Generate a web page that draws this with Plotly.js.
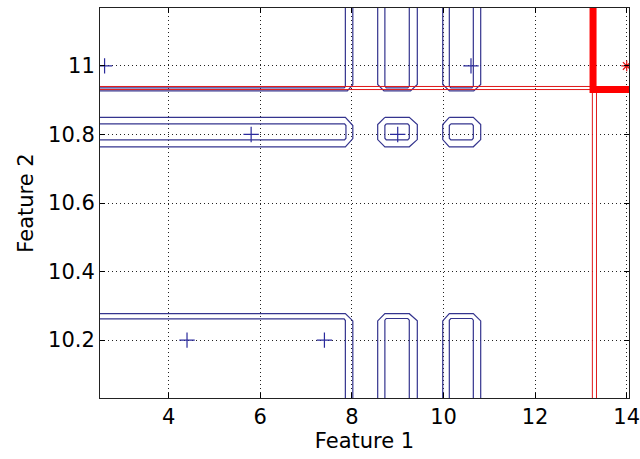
<!DOCTYPE html>
<html>
<head>
<meta charset="utf-8">
<script src="https://cdn.plot.ly/plotly-3.0.1.min.js"></script>
<style>
  html, body { margin: 0; padding: 0; background: #fff; }
  #chart { width: 640px; height: 459px; }
</style>
</head>
<body>
<div id="chart"></div>
<script>
// Training samples
const blueX = [2.6, 10.6, 5.8, 9.0, 4.4, 7.4];
const blueY = [11.0, 11.0, 10.8, 10.8, 10.2, 10.2];
const redX = [14.0];
const redY = [11.0];

// Axis tick values
const xTicks = [4, 6, 8, 10, 12, 14];
const yTicks = [10.2, 10.4, 10.6, 10.8, 11];
const yTickText = ['10.2', '10.4', '10.6', '10.8', '11'];

// Blue class contours (two levels each), vertex lists [x, y]
const topLeftOuter = [[2.3, 10.927], [7.90, 10.927], [8.02, 10.945], [8.02, 11.25]];
const topLeftInner = [[2.3, 10.936], [7.83, 10.936], [7.857, 10.940], [7.857, 11.25]];
const topCupAOuter = [[8.563, 11.25], [8.563, 10.946], [8.70, 10.927], [9.28, 10.927], [9.428, 10.946], [9.428, 11.25]];
const topCupAInner = [[8.72, 11.25], [8.72, 10.941], [8.75, 10.936], [9.22, 10.936], [9.253, 10.941], [9.253, 11.25]];
const topCupBOuter = [[9.983, 11.25], [9.983, 10.946], [10.13, 10.927], [10.66, 10.927], [10.812, 10.946], [10.812, 11.25]];
const topCupBInner = [[10.127, 11.25], [10.127, 10.941], [10.16, 10.936], [10.62, 10.936], [10.651, 10.941], [10.651, 11.25]];

const midBandOuter = [[2.3, 10.850], [7.857, 10.850], [8.02, 10.826], [8.02, 10.788], [7.857, 10.764], [2.3, 10.764]];
const midBandInner = [[2.3, 10.831], [7.84, 10.831], [7.87, 10.826], [7.87, 10.789], [7.84, 10.784], [2.3, 10.784]];
const midBlobAOuter = [[8.72, 10.850], [9.253, 10.850], [9.428, 10.829], [9.428, 10.785], [9.253, 10.764], [8.72, 10.764], [8.563, 10.785], [8.563, 10.829], [8.72, 10.850]];
const midBlobAInner = [[8.75, 10.831], [9.22, 10.831], [9.253, 10.826], [9.253, 10.789], [9.22, 10.784], [8.75, 10.784], [8.72, 10.789], [8.72, 10.826], [8.75, 10.831]];
const midBlobBOuter = [[10.127, 10.850], [10.651, 10.850], [10.812, 10.829], [10.812, 10.785], [10.651, 10.764], [10.127, 10.764], [9.983, 10.785], [9.983, 10.829], [10.127, 10.850]];
const midBlobBInner = [[10.16, 10.831], [10.62, 10.831], [10.651, 10.826], [10.651, 10.789], [10.62, 10.784], [10.16, 10.784], [10.127, 10.789], [10.127, 10.826], [10.16, 10.831]];

const botLeftOuter = [[2.3, 10.277], [7.857, 10.277], [8.02, 10.256], [8.02, 9.9]];
const botLeftInner = [[2.3, 10.262], [7.83, 10.262], [7.857, 10.257], [7.857, 9.9]];
const botCupAOuter = [[8.563, 9.9], [8.563, 10.256], [8.72, 10.277], [9.253, 10.277], [9.428, 10.256], [9.428, 9.9]];
const botCupAInner = [[8.72, 9.9], [8.72, 10.258], [8.75, 10.263], [9.22, 10.263], [9.253, 10.258], [9.253, 9.9]];
const botCupBOuter = [[9.983, 9.9], [9.983, 10.256], [10.127, 10.277], [10.651, 10.277], [10.812, 10.256], [10.812, 9.9]];
const botCupBInner = [[10.127, 9.9], [10.127, 10.258], [10.16, 10.263], [10.62, 10.263], [10.651, 10.258], [10.651, 9.9]];

// Red class contours
const redOuter = [[2.3, 10.940], [13.22, 10.940], [13.34, 10.922], [13.34, 9.9]];
const redInner = [[2.3, 10.931], [13.21, 10.931], [13.25, 10.925], [13.25, 9.9]];
const redSteep = [[13.265, 11.25], [13.265, 10.931], [14.2, 10.931]];

const bluePaths = [
  topLeftOuter, topLeftInner, topCupAOuter, topCupAInner, topCupBOuter, topCupBInner,
  midBandOuter, midBandInner, midBlobAOuter, midBlobAInner, midBlobBOuter, midBlobBInner,
  botLeftOuter, botLeftInner, botCupAOuter, botCupAInner, botCupBOuter, botCupBInner
];
const redThinPaths = [redOuter, redInner];

const BLUE = '#34348e';
const RED = '#ff0000';

function pathTrace(path, color, width) {
  return {
    type: 'scatter', mode: 'lines',
    x: path.map(p => p[0]), y: path.map(p => p[1]),
    line: { color: color, width: width },
    hoverinfo: 'skip', showlegend: false
  };
}

const traces = [];
bluePaths.forEach(p => traces.push(pathTrace(p, BLUE, 1.2)));
redThinPaths.forEach(p => traces.push(pathTrace(p, '#e01818', 1)));
traces.push(pathTrace(redSteep, RED, 7));

traces.push({
  type: 'scatter', mode: 'markers', x: blueX, y: blueY,
  marker: { symbol: 'cross-thin', size: 11, line: { color: '#2a2a9c', width: 1.2 } },
  hoverinfo: 'skip', showlegend: false
});
traces.push({
  type: 'scatter', mode: 'markers', x: redX, y: redY,
  marker: { symbol: 'asterisk', size: 9, line: { color: '#e01010', width: 1.2 } },
  hoverinfo: 'skip', showlegend: false
});

const axisFont = { family: 'DejaVu Sans, sans-serif', size: 21, color: '#000' };

const layout = {
  width: 640, height: 459,
  margin: { l: 100, r: 11, t: 8, b: 61 },
  paper_bgcolor: '#fff', plot_bgcolor: '#fff',
  showlegend: false,
  xaxis: {
    range: [2.5, 14.05], tickvals: xTicks, ticktext: xTicks.map(String),
    ticks: 'inside', ticklen: 5, tickcolor: '#000', tickwidth: 1,
    showline: true, linecolor: '#222', linewidth: 1, mirror: 'ticks',
    showgrid: true, gridcolor: '#222', gridwidth: 1, griddash: '1px,3px',
    zeroline: false, tickfont: axisFont, ticklabeloverflow: 'allow',
    title: { text: 'Feature 1', font: axisFont, standoff: 2 }
  },
  yaxis: {
    range: [10.031, 11.169], tickvals: yTicks, ticktext: yTickText,
    ticks: 'inside', ticklen: 5, tickcolor: '#000', tickwidth: 1,
    showline: true, linecolor: '#222', linewidth: 1, mirror: 'ticks',
    showgrid: true, gridcolor: '#222', gridwidth: 1, griddash: '1px,3px',
    zeroline: false, tickfont: axisFont, ticklabeloverflow: 'allow',
    title: { text: 'Feature 2', font: axisFont, standoff: 8 }
  }
};

Plotly.newPlot('chart', traces, layout, { staticPlot: true, displayModeBar: false });
</script>
</body>
</html>
